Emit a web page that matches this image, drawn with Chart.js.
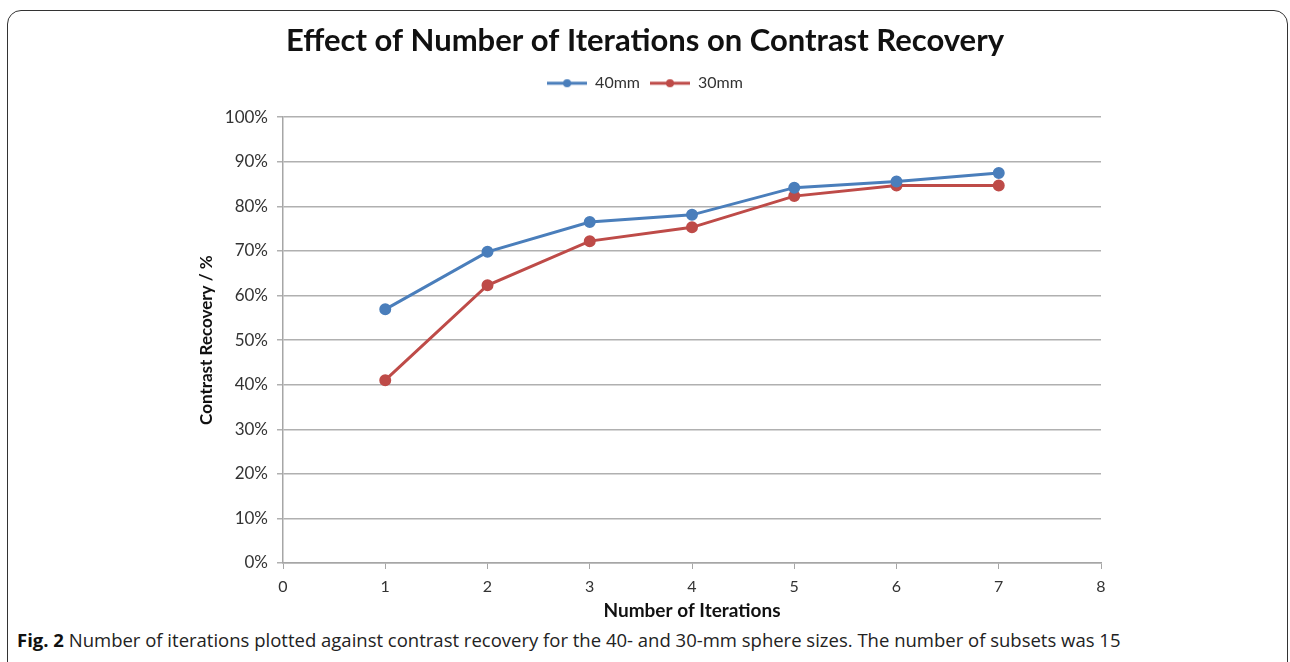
<!DOCTYPE html>
<html>
<head>
<meta charset="utf-8">
<script src="https://cdn.jsdelivr.net/npm/chart.js@4/dist/chart.umd.min.js"></script>
<style>
  body { margin: 0; background: #fff; width: 1290px; height: 662px; overflow: hidden; position: relative; }
  #frame { position: absolute; left: 7px; top: 10px; width: 1279px; height: 700px; border: 1.5px solid #333; border-radius: 14px; }
  #chart { position: absolute; left: 0; top: 0; }
  #caption { position: absolute; left: 17px; top: 627px; font-family: "Open Sans", sans-serif; font-size: 18.5px; color: #222; white-space: nowrap; }
  #caption b { color: #111; }
</style>
</head>
<body>
<div id="frame"></div>
<canvas id="chart" width="1290" height="625"></canvas>
<div id="caption"><b>Fig. 2</b> Number of iterations plotted against contrast recovery for the 40- and 30-mm sphere sizes. The number of subsets was 15</div>
<script>
// Data
const iterations = [1, 2, 3, 4, 5, 6, 7];
const recovery40 = [56.9, 69.8, 76.5, 78.1, 84.2, 85.6, 87.5];
const recovery30 = [41.0, 62.3, 72.2, 75.3, 82.3, 84.7, 84.7];
const seriesNames = ['40mm', '30mm'];
const seriesColors = ['#4a7ebb', '#be4b48'];

const chartFont = 'Lato, "Liberation Sans", sans-serif';

// Legend marker: short line with a dot, like Excel
function legendIcon(color) {
    const c = document.createElement('canvas');
    c.width = 40;
    c.height = 10;
    const g = c.getContext('2d');
    g.strokeStyle = color;
    g.lineWidth = 3;
    g.beginPath();
    g.moveTo(0, 5);
    g.lineTo(40, 5);
    g.stroke();
    g.fillStyle = color;
    g.beginPath();
    g.arc(20, 5, 4, 0, Math.PI * 2);
    g.fill();
    return c;
}
const icons = seriesColors.map(legendIcon);

function toPoints(values) {
    return iterations.map((x, i) => ({ x: x, y: values[i] }));
}

const datasets = [recovery40, recovery30].map((values, i) => ({
    label: seriesNames[i],
    data: toPoints(values),
    borderColor: seriesColors[i],
    backgroundColor: seriesColors[i],
    borderWidth: 3,
    pointRadius: 4.5,
    pointHoverRadius: 4.5,
    tension: 0
}));

// leave some room between the legend and the plot
const legendGap = {
    id: 'legendGap',
    beforeLayout(chart) {
        const legend = chart.legend;
        if (legend && !legend._gapPatched) {
            const fit = legend.fit;
            legend.fit = function () {
                fit.call(this);
                this.height += 16;
            };
            legend._gapPatched = true;
        }
    }
};

const ctx = document.getElementById('chart').getContext('2d');
new Chart(ctx, {
    type: 'line',
    data: { datasets: datasets },
    plugins: [legendGap],
    options: {
        responsive: false,
        animation: false,
        devicePixelRatio: 1,
        layout: { padding: 0 },
        plugins: {
            title: {
                display: true,
                text: 'Effect of Number of Iterations on Contrast Recovery',
                color: '#111',
                font: { family: chartFont, size: 31, weight: 'bold' },
                padding: { top: 22, bottom: 6 }
            },
            legend: {
                display: true,
                labels: {
                    usePointStyle: true,
                    pointStyleWidth: 40,
                    color: '#333',
                    font: { family: chartFont, size: 16 },
                    padding: 10,
                    generateLabels(chart) {
                        const items = Chart.defaults.plugins.legend.labels.generateLabels(chart);
                        items.forEach((item, i) => { item.pointStyle = icons[i]; });
                        return items;
                    }
                }
            },
            tooltip: { enabled: false }
        },
        scales: {
            x: {
                type: 'linear',
                min: 0,
                max: 8,
                ticks: {
                    stepSize: 1,
                    color: '#333',
                    padding: 8,
                    font: { family: chartFont, size: 16 }
                },
                grid: { drawOnChartArea: false, drawTicks: true, tickLength: 6, color: '#a6a6a6' },
                border: { color: '#a6a6a6', width: 1.5 },
                title: {
                    display: true,
                    text: 'Number of Iterations',
                    color: '#111',
                    font: { family: chartFont, size: 19, weight: 'bold' },
                    padding: { top: 0, bottom: 3 }
                },
                afterFit(scale) { scale.height = 62; }
            },
            y: {
                min: 0,
                max: 100,
                ticks: {
                    stepSize: 10,
                    color: '#333',
                    padding: 9,
                    font: { family: chartFont, size: 17 },
                    callback: v => v + '%'
                },
                grid: { color: '#b0b0b0', lineWidth: 1.5, tickLength: 6 },
                border: { color: '#a6a6a6', width: 1.5 },
                title: {
                    display: true,
                    text: 'Contrast Recovery / %',
                    color: '#111',
                    font: { family: chartFont, size: 17, weight: 'bold' },
                    padding: { top: 196, bottom: 0 }
                },
                afterFit(scale) { scale.width = 283; }
            },
            // empty axis that only reserves the right margin
            yRight: {
                position: 'right',
                display: true,
                ticks: { display: false },
                grid: { display: false },
                border: { display: false },
                afterFit(scale) { scale.width = 189; }
            }
        }
    }
});
</script>
</body>
</html>
